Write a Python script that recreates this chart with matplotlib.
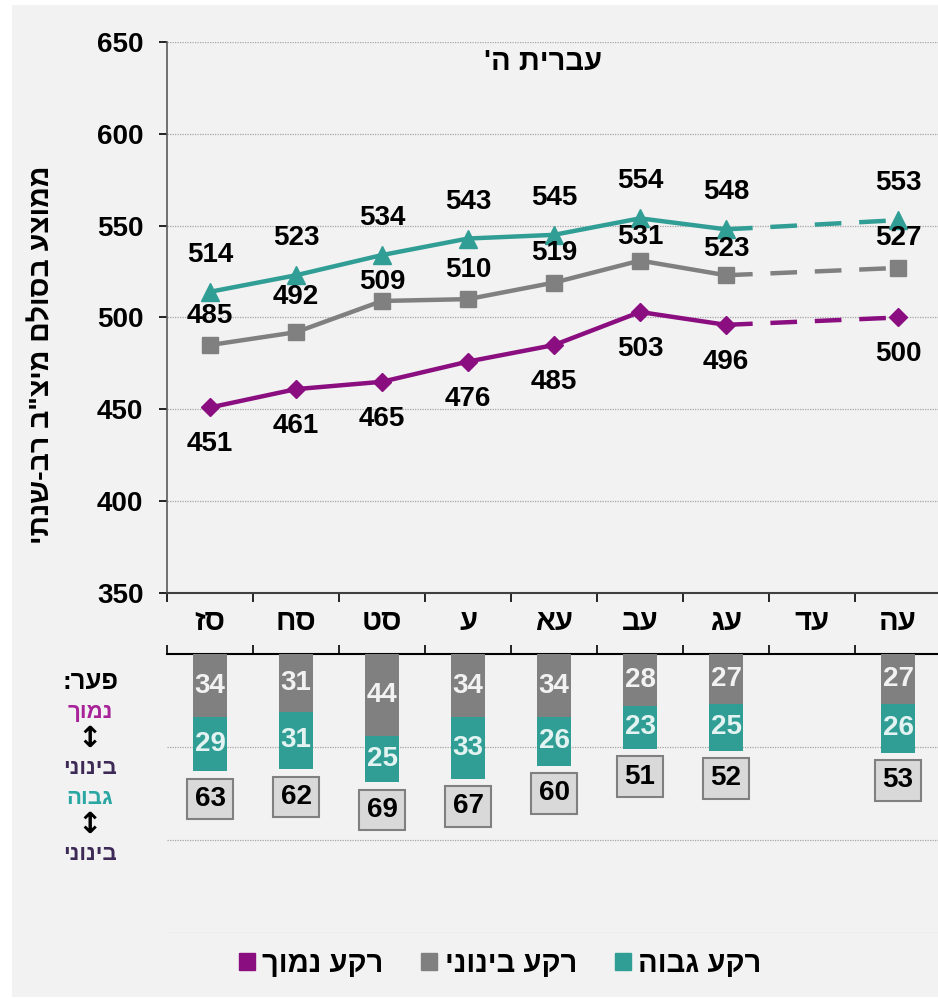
import matplotlib.pyplot as plt
import numpy as np
from matplotlib.patches import Patch, Rectangle

FONT = ['Liberation Sans', 'DejaVu Sans']
plt.rcParams['font.family'] = FONT
plt.rcParams['font.weight'] = 'bold'


def heb(s):
    # matplotlib has no bidi, so flip the hebrew by hand
    return s[::-1]


years = ['סז', 'סח', 'סט', 'ע', 'עא', 'עב', 'עג', 'עד', 'עה']
high = [514, 523, 534, 543, 545, 554, 548, np.nan, 553]
mid = [485, 492, 509, 510, 519, 531, 523, np.nan, 527]
low = [451, 461, 465, 476, 485, 503, 496, np.nan, 500]

gap_low_mid = [34, 31, 44, 34, 34, 28, 27, np.nan, 27]
gap_high_mid = [29, 31, 25, 33, 26, 23, 25, np.nan, 26]
gap_total = [63, 62, 69, 67, 60, 51, 52, np.nan, 53]

# label offsets (px above the point) for the grey series, placed by hand in the original
mid_label_dy = [29, 35, 19, 29, 30, 24, 26, np.nan, 30]

c_high = '#319e96'
c_mid = '#808080'
c_low = '#8a0e80'
bg = '#f2f2f2'

W, H = 938, 998
fig = plt.figure(figsize=(W / 100, H / 100), dpi=100, facecolor='white')
fig.patches.append(Rectangle((12 / W, 1 / H), 1, 1 - 6 / H, transform=fig.transFigure,
                             facecolor=bg, edgecolor='none', zorder=-10))

def fx(px):
    return px / W

def fy(py):
    return 1 - py / H

# ---- upper chart ----
ax = fig.add_axes([fx(167), fy(593), fx(774), 551 / H])
ax.set_facecolor('none')
x = np.arange(len(years))

series = [(high, c_high, '^', 13), (mid, c_mid, 's', 11), (low, c_low, 'D', 9)]
for vals, col, mk, ms in series:
    v = np.array(vals, dtype=float)
    ax.plot(x[:7], v[:7], color=col, lw=3.2, marker=mk, ms=ms, zorder=3)
    ax.plot([x[6], x[8]], [v[6], v[8]], color=col, lw=3.2, ls=(0, (6, 4)),
            marker=mk, ms=ms, markevery=[1], zorder=3)

lab = dict(ha='center', va='center', fontsize=20, fontweight='bold', textcoords='offset points')
for i in range(len(years)):
    if np.isnan(high[i]):
        continue
    ax.annotate(str(high[i]), (x[i], high[i]), xytext=(0, 26.6), **lab)
    ax.annotate(str(mid[i]), (x[i], mid[i]), xytext=(0, mid_label_dy[i] * 0.72), **lab)
    ax.annotate(str(low[i]), (x[i], low[i]), xytext=(0, -26.6), **lab)

ax.set_xlim(-0.5, len(years) - 0.5)
ax.set_ylim(350, 650)
ax.set_yticks(range(350, 651, 50))
ax.set_xticks(x)
ax.set_xticklabels([heb(y) for y in years], fontsize=21, fontweight='bold')
ax.set_xticks(np.arange(-0.5, len(years)), minor=True)
ax.tick_params(axis='x', which='major', length=0, pad=11)
ax.tick_params(axis='x', which='minor', length=6.5, width=1.2, direction='out')
ax.tick_params(axis='y', length=6, width=1.2, pad=11, labelsize=20)
for t in ax.get_yticklabels():
    t.set_fontweight('bold')
ax.grid(axis='y', ls=(0, (1, 1)), color='#a6a6a6', lw=0.9)
ax.spines['top'].set_visible(False)
ax.spines['right'].set_visible(False)
ax.spines['left'].set_color('#595959')
ax.spines['bottom'].set_color('#404040')
ax.spines['left'].set_linewidth(1.2)
ax.spines['bottom'].set_linewidth(1.5)

fig.text(fx(543), fy(62), heb("עברית ה'"), ha='center', va='center',
         fontsize=21, fontweight='bold')
fig.text(fx(42), fy(355), heb('ממוצע בסולם מיצ"ב רב-שנתי'), rotation=90,
         ha='center', va='center', fontsize=20.5, fontweight='bold')

# ---- lower chart: gaps ----
ax2 = fig.add_axes([fx(167), fy(933), fx(774), 279 / H])
ax2.set_facecolor('none')
g1 = np.array(gap_low_mid, dtype=float)
g2 = np.array(gap_high_mid, dtype=float)
ax2.bar(x, g1, width=0.4, color=c_mid, zorder=3)
ax2.bar(x, g2, bottom=g1, width=0.4, color=c_high, zorder=3)
for i in range(len(years)):
    if np.isnan(gap_total[i]):
        continue
    ax2.text(x[i], g1[i] / 2, str(gap_low_mid[i]), ha='center', va='center',
             fontsize=20, fontweight='bold', color='#f2f2f2', zorder=4)
    ax2.text(x[i], g1[i] + g2[i] / 2, str(gap_high_mid[i]), ha='center', va='center',
             fontsize=20, fontweight='bold', color='#e2f3f1', zorder=4)
    ax2.annotate(str(gap_total[i]), (x[i], gap_total[i]), xytext=(0, -20),
                 textcoords='offset points', ha='center', va='center',
                 fontsize=20, fontweight='bold',
                 bbox=dict(boxstyle='square,pad=0.26', fc='#d9d9d9', ec='#808080', lw=1.5))

ax2.set_xlim(-0.5, len(years) - 0.5)
ax2.set_ylim(150, 0)
ax2.set_yticks([50, 100, 150])
ax2.tick_params(axis='y', length=0, labelleft=False)
ax2.grid(axis='y', ls=(0, (1, 1)), color='#a6a6a6', lw=0.9)
ax2.xaxis.tick_top()
ax2.set_xticks([])
ax2.set_xticks(np.arange(-0.5, len(years)), minor=True)
ax2.tick_params(axis='x', which='minor', top=True, length=6.5, width=1.2, direction='out')
for s in ['left', 'right', 'bottom']:
    ax2.spines[s].set_visible(False)
ax2.spines['top'].set_linewidth(1.5)

side = [(heb('פער:'), 682, 'black', 18.5), (heb('נמוך'), 712, '#a8229a', 16),
        ('↕', 739, 'black', 21), (heb('בינוני'), 768, '#3d2a57', 16),
        (heb('גבוה'), 798, '#2aa6a3', 16), ('↕', 825, 'black', 21),
        (heb('בינוני'), 855, '#3d2a57', 16)]
for s, py, col, fs in side:
    fam = ['DejaVu Sans'] if s == '↕' else FONT
    fig.text(fx(90), fy(py), s, ha='center', va='center', color=col,
             fontsize=fs, fontweight='bold', family=fam)

handles = [Patch(color=c_low), Patch(color=c_mid), Patch(color=c_high)]
names = [heb('רקע נמוך'), heb('רקע בינוני'), heb('רקע גבוה')]
fig.legend(handles, names, loc='center', bbox_to_anchor=(fx(500), fy(964)), ncol=3,
           frameon=False, handlelength=0.55, handleheight=0.55, handletextpad=0.25,
           columnspacing=1.3, prop={'family': FONT, 'weight': 'bold', 'size': 21})

fig.savefig('out.png', dpi=100, facecolor=fig.get_facecolor())
